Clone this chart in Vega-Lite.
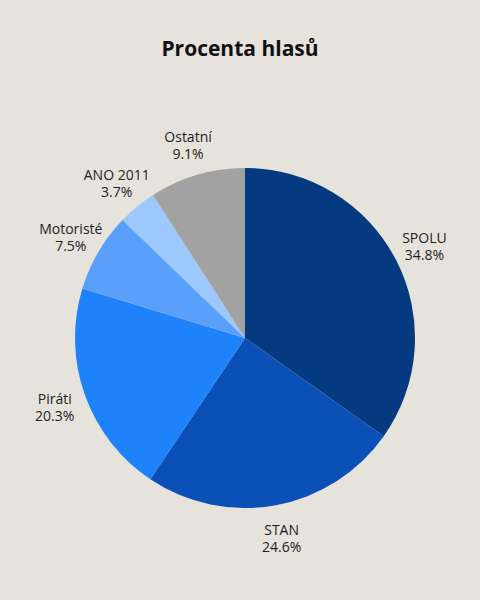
{
  "$schema": "https://vega.github.io/schema/vega-lite/v6.json",
  "width": 480,
  "height": 496,
  "autosize": {"type": "none"},
  "padding": {"left": 5, "top": 90, "right": 0, "bottom": 14},
  "background": "#e6e3dc",
  "title": {
    "text": "Procenta hlasů",
    "font": "Open Sans",
    "fontSize": 21,
    "fontWeight": "bold",
    "color": "#111111",
    "anchor": "middle",
    "dx": -5,
    "offset": 30
  },
  "config": {"view": {"stroke": null}},
  "data": {
    "values": [
      {"party": "SPOLU", "pct": 34.8, "o": 1, "label": "SPOLU\n34.8%"},
      {"party": "STAN", "pct": 24.6, "o": 2, "label": "STAN\n24.6%"},
      {"party": "Piráti", "pct": 20.3, "o": 3, "label": "Piráti\n20.3%"},
      {"party": "Motoristé", "pct": 7.5, "o": 4, "label": "Motoristé\n7.5%"},
      {"party": "ANO 2011", "pct": 3.7, "o": 5, "label": "ANO 2011\n3.7%"},
      {"party": "Ostatní", "pct": 9.1, "o": 6, "label": "Ostatní\n9.1%"}
    ]
  },
  "encoding": {
    "theta": {"field": "pct", "type": "quantitative", "stack": true},
    "order": {"field": "o", "type": "quantitative", "sort": "ascending"}
  },
  "layer": [
    {
      "mark": {"type": "arc", "outerRadius": 170},
      "encoding": {
        "color": {
          "field": "party",
          "type": "nominal",
          "scale": {
            "domain": ["SPOLU", "STAN", "Piráti", "Motoristé", "ANO 2011", "Ostatní"],
            "range": ["#063a80", "#0a50b6", "#1e82fa", "#5aa0fa", "#9cc8fc", "#a2a2a2"]
          },
          "legend": null
        }
      }
    },
    {
      "mark": {
        "type": "text",
        "radius": 202,
        "dy": -6,
        "font": "Open Sans",
        "fontSize": 14,
        "color": "#222222",
        "lineBreak": "\n",
        "lineHeight": 17,
        "align": "center",
        "baseline": "middle"
      },
      "encoding": {
        "text": {"field": "label", "type": "nominal"}
      }
    }
  ]
}
